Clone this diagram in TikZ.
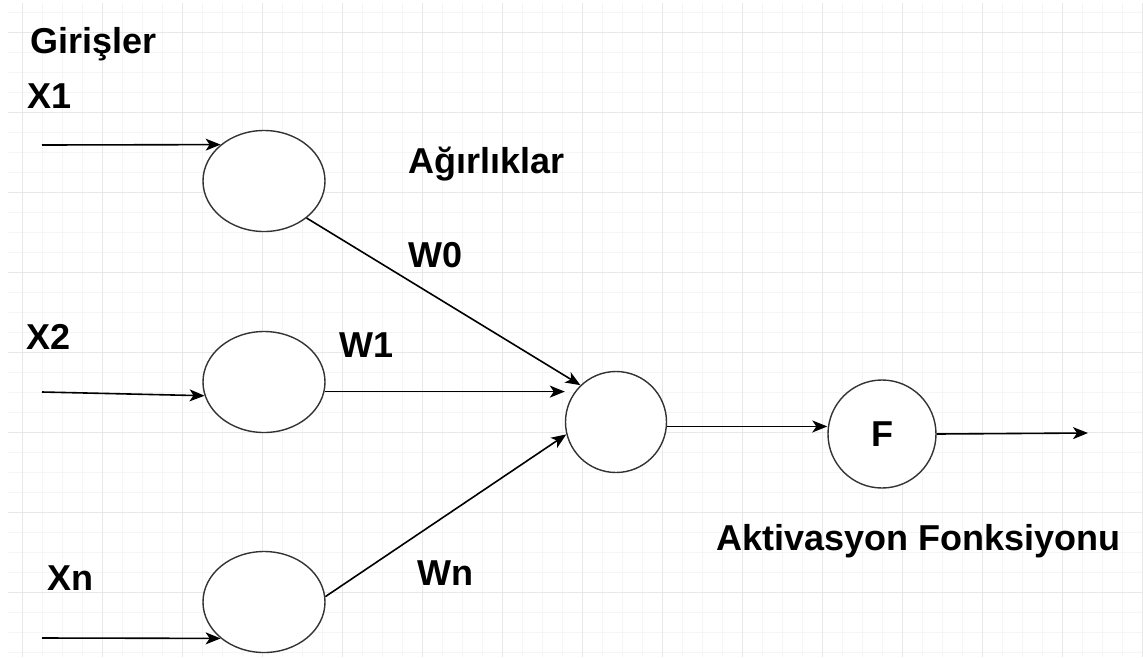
\documentclass[tikz,border=0pt]{standalone}
\usepackage{fontspec}
\setmainfont{Liberation Sans}
\usepackage{xcolor}
\colorlet{colorGridMinor}{black!4}
\colorlet{colorGridMajor}{black!9}
\colorlet{colorBorder}{black!80}
\usetikzlibrary{arrows.meta, positioning, shapes.geometric}
\tikzset{
  neuron/.style={ellipse, draw=colorBorder, line width=1.4pt, fill=white, minimum width=122pt, minimum height=101pt, inner sep=0pt},
  unit/.style={circle, draw=colorBorder, line width=1.4pt, fill=white, inner sep=0pt},
  lbl/.style={anchor=base west, inner sep=0pt, font=\bfseries\fontsize{36}{42}\selectfont},
}

\begin{document}
\begin{tikzpicture}[x=1pt, y=-1pt, >={Stealth[length=15pt, width=12pt, inset=4pt]}, line width=1.6pt]
\useasboundingbox (0,0) rectangle (1143,657);
\fill[white] (0,0) rectangle (1143,657);
\draw[colorGridMinor, line width=1pt, shift={(2,12)}, step=20pt] (6,-9) grid (1141,645);
\draw[colorGridMajor, line width=1pt, shift={(22,32)}, step=80pt] (-14,-29) grid (1121,625);
\node[neuron] (e1) at (264,181) {};
\node[neuron] (e2) at (264,382) {};
\node[neuron] (e3) at (264,602) {};
\node[unit, minimum size=101pt] (sum) at (616,422) {};
\node[unit, minimum size=108pt, font=\bfseries\fontsize{36}{42}\selectfont] (F) at (882,434) {F};
\node[lbl] (girisler) at (30,53) {Girişler};
\node[lbl] (x1) at (27,108) {X1};
\node[lbl] (x2) at (26,349) {X2};
\node[lbl] (xn) at (47,590) {Xn};
\node[lbl] (agirliklar) at (408,173) {Ağırlıklar};
\node[lbl] (w0) at (408,267) {W0};
\node[lbl] (w1) at (339,357) {W1};
\node[lbl] (wn) at (417,585) {Wn};
\node[lbl] (aktivasyon) at (716,550) {Aktivasyon Fonksiyonu};
\coordinate (in1) at (42,145);
\coordinate (in2) at (42,392);
\coordinate (in3) at (42,638);
\coordinate (out) at (1088,433);
\draw[->] (in1) -- (e1.140);
\draw[->] (in2) -- (e2.193);
\draw[->] (in3) -- (e3.220);
\draw[->] (e1.-41) -- (sum.134);
\draw[->] (e2.-9) -- (e2.-9 -| sum.west);
\draw[->] (e3.5) -- (sum.194);
\draw[->] (sum.-5) -- (sum.-5 -| F.west);
\draw[->] (F.east) -- (out);
\end{tikzpicture}
\end{document}
